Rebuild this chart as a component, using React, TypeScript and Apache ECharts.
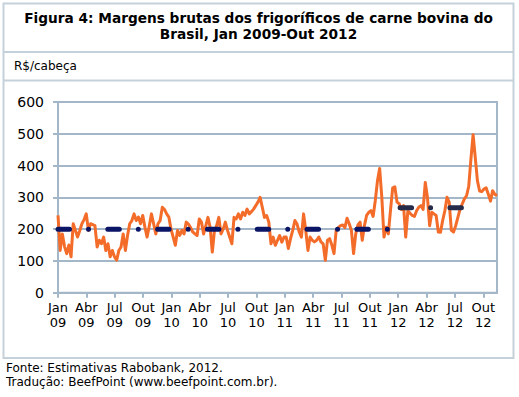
import React, { useEffect, useRef } from "react";
import * as echarts from "echarts";

const TITLE = "Figura 4: Margens brutas dos frigoríficos de carne bovina do\nBrasil, Jan 2009-Out 2012";
const UNIT_LABEL = "R$/cabeça";
const SOURCE_LINES = ["Fonte: Estimativas Rabobank, 2012.", "Tradução: BeefPoint (www.beefpoint.com.br)."];
const QUARTER_MONTHS = ["Jan", "Abr", "Jul", "Out"];
const YEARS = ["09", "10", "11", "12"];

// weekly gross margins, R$/head
const margins2009 = [243,133,185,145,123,150,113,217,196,175,195,217,230,248,196,217,214,211,144,165,154,175,133,154,113,133,113,102,133,144,185,133,180,217,227,248,227,238,217,243,206,175,210,248,217,185,217,227,269,262,248,238];
const margins2010 = [200,175,149,196,180,196,185,222,216,205,191,185,180,232,222,185,210,237,206,128,196,211,237,185,200,222,196,175,154,237,232,248,232,253,243,263,248,255,263,274,285,300,269,237,243,222,154,175,149,165,180,159];
const margins2011 = [175,175,139,170,196,227,216,191,175,248,196,133,175,165,160,165,175,160,154,102,165,170,150,123,196,205,211,213,205,234,217,196,123,185,213,222,165,211,243,253,258,240,290,352,391,300,175,206,185,260,330,333];
const margins2012 = [285,280,262,274,175,258,250,243,240,258,269,274,262,347,300,211,253,248,243,191,190,227,258,300,285,196,191,211,237,263,279,295,305,335,420,497,425,352,320,318,326,330,310,288,321,310,305];

// average levels (value, start month, end month since Jan 2009)
const avgLevels = [200, 267];
const avgStart = [0, 36.2];
const avgEnd = [36, 43.5];
const avgColors = ["#0B1565", "#262B4A"];

const WEEKS_PER_MONTH = 52.18 / 12;

export default function App() {
  const ref = useRef<HTMLDivElement>(null);
  useEffect(() => {
    if (!ref.current) return;
    const chart = echarts.init(ref.current, null, { renderer: "svg" });
    const weekly = [...margins2009, ...margins2010, ...margins2011, ...margins2012];
    const lineData = weekly.map((v, i) => [i / WEEKS_PER_MONTH, v]);
    const xMax = (weekly.length - 1) / WEEKS_PER_MONTH;
    const font = "DejaVu Sans, Verdana, sans-serif";
    const gridColor = "#a3b7c9";
    const boxColor = "#c5d1da";

    const avgSeries = avgLevels.map((lvl, k) => ({
      type: "line",
      data: [[avgStart[k], lvl], [avgEnd[k], lvl]],
      symbol: "none",
      z: 5,
      lineStyle: { color: avgColors[k], width: 5, type: [11.5, 19, 0.01, 19.3], cap: "round" },
      silent: true,
    }));

    chart.setOption({
      animation: false,
      backgroundColor: "#ffffff",
      grid: { left: 58, right: 22, top: 102, bottom: 104.3, show: true, borderColor: gridColor, borderWidth: 2 },
      xAxis: {
        type: "value",
        min: 0,
        max: xMax,
        interval: 3,
        splitLine: { show: false },
        axisLine: { lineStyle: { color: gridColor, width: 2 } },
        axisTick: { show: true, length: 5, inside: false, lineStyle: { color: gridColor, width: 2 } },
        axisLabel: {
          color: "#000",
          fontFamily: font,
          fontSize: 13,
          lineHeight: 15,
          margin: 7,
          showMaxLabel: false,
          formatter: (v: number) => {
            const q = Math.round(v / 3);
            if (Math.abs(v - q * 3) > 0.01) return "";
            return QUARTER_MONTHS[q % 4] + "\n" + YEARS[Math.floor(q / 4)];
          },
        },
      },
      yAxis: {
        type: "value",
        min: 0,
        max: 600,
        interval: 100,
        axisLine: { show: true, lineStyle: { color: gridColor, width: 2 } },
        axisTick: { show: true, length: 5, inside: false, lineStyle: { color: gridColor, width: 2 } },
        splitLine: { show: true, lineStyle: { color: gridColor, width: 2 } },
        axisLabel: { color: "#000", fontFamily: font, fontSize: 14, margin: 14 },
      },
      series: [
        {
          type: "line",
          data: lineData,
          symbol: "none",
          z: 3,
          lineStyle: { color: "#F36C2A", width: 3, join: "round" },
          silent: true,
        },
        ...avgSeries,
      ],
      graphic: [
        { type: "rect", shape: { x: 3.5, y: 3.5, width: 510, height: 354.5 }, style: { fill: "none", stroke: boxColor, lineWidth: 2 }, z: 0 },
        { type: "line", shape: { x1: 3.5, y1: 52, x2: 513.5, y2: 52 }, style: { stroke: boxColor, lineWidth: 2 } },
        { type: "line", shape: { x1: 3.5, y1: 80.5, x2: 513.5, y2: 80.5 }, style: { stroke: boxColor, lineWidth: 2 } },
        {
          type: "text", x: 258.5, y: 26,
          style: { text: TITLE, fill: "#000", font: `bold 13.7px ${font}`, align: "center", verticalAlign: "middle", lineHeight: 16 },
        },
        {
          type: "text", x: 14, y: 66,
          style: { text: UNIT_LABEL, fill: "#000", font: `12px ${font}`, align: "left", verticalAlign: "middle" },
        },
        {
          type: "text", x: 6, y: 368,
          style: { text: SOURCE_LINES[0], fill: "#000", font: `12px ${font}`, align: "left", verticalAlign: "middle" },
        },
        {
          type: "text", x: 6, y: 382,
          style: { text: SOURCE_LINES[1], fill: "#000", font: `12px ${font}`, align: "left", verticalAlign: "middle" },
        },
      ],
    });
    return () => chart.dispose();
  }, []);
  return <div ref={ref} style={{ position: "fixed", left: 0, top: 0, width: 519, height: 397 }} />;
}
